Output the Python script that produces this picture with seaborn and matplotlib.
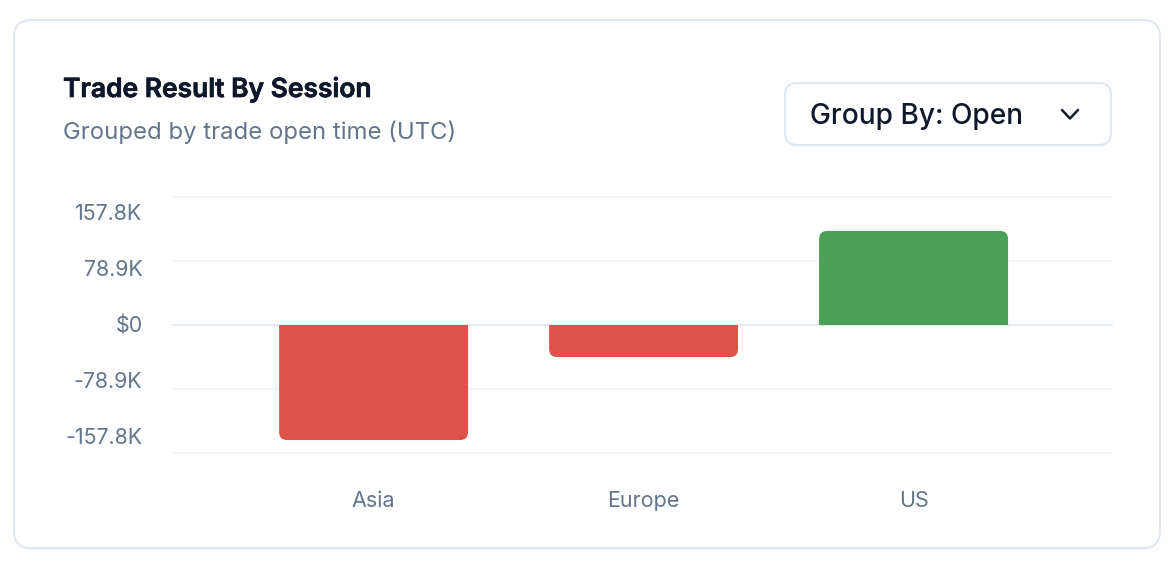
import matplotlib
matplotlib.use("Agg")
import matplotlib.pyplot as plt
import matplotlib.patheffects as pe
from matplotlib.patches import FancyBboxPatch, PathPatch
from matplotlib.path import Path
import pandas as pd
import seaborn as sns

sessions = ["Asia", "Europe", "US"]
results = [-141800, -39500, 115900]
bar_colors = ["#DD524B", "#DD524B", "#4BA155"]

grid_values = [157800, 78900, 0, -78900, -157800]
tick_labels = ["157.8K", "78.9K", "$0", "-78.9K", "-157.8K"]
label_centers_px = [212, 268, 324, 380, 436]

W, H = 1176, 568
SLATE = "#64748B"
INK = "#0F172A"
BORDER = "#E2E8F0"
GRID = "#F1F5F9"

sns.set_style("white")
plt.rcParams["font.family"] = ["Inter", "DejaVu Sans"]

fig = plt.figure(figsize=(W / 100, H / 100), dpi=100, facecolor="white")

# pixel canvas for the card, the headings and the dropdown
bg = fig.add_axes([0, 0, 1, 1], zorder=0)
bg.set_xlim(0, W)
bg.set_ylim(H, 0)
bg.axis("off")

# faint shadow under the card
bg.add_patch(FancyBboxPatch((14, 22), 1146, 528, boxstyle="round,pad=0,rounding_size=17",
                            fc="#F4F6F9", ec="none"))
bg.add_patch(FancyBboxPatch((14, 20), 1146, 528, boxstyle="round,pad=0,rounding_size=17",
                            fc="white", ec=BORDER, lw=1.5))
title = bg.text(63, 89.5, "Trade Result By Session", fontsize=19, fontweight="semibold",
                color=INK, va="center", ha="left")
title.set_path_effects([pe.withStroke(linewidth=0.5, foreground=INK)])
bg.text(63, 132, "Grouped by trade open time (UTC)", fontsize=17.2,
        color=SLATE, va="center", ha="left")

bg.add_patch(FancyBboxPatch((785, 83), 326, 62, boxstyle="round,pad=0,rounding_size=12",
                            fc="white", ec=BORDER, lw=1.5))
bg.text(810, 116, "Group By: Open", fontsize=20.2, fontweight="medium",
        color=INK, va="center", ha="left")
bg.plot([1062, 1070, 1078], [110, 118.5, 110], color=INK, lw=1.8,
        solid_capstyle="round", solid_joinstyle="round")

# chart area, 173-1112 across and 197-453 down in reference pixels
ax_left, ax_right, ax_top, ax_bottom = 173, 1112, 197, 453
ax = fig.add_axes([ax_left / W, 1 - ax_bottom / H,
                   (ax_right - ax_left) / W, (ax_bottom - ax_top) / H], zorder=1)
ax.patch.set_alpha(0)

df = pd.DataFrame({"session": sessions, "result": results})
sns.barplot(data=df, x="session", y="result", hue="session", palette=bar_colors,
            saturation=1, width=0.7, legend=False, ax=ax, zorder=3)

ax.set_xlim(-0.743, 2.735)
ax.set_ylim(grid_values[-1], grid_values[0])
sns.despine(ax=ax, left=True, bottom=True)

for value in grid_values:
    ax.axhline(value, color=BORDER if value == 0 else GRID, lw=1.3, zorder=1, clip_on=False)

# rounded ends on the far side of each bar
px_x = (ax_right - ax_left) / (ax.get_xlim()[1] - ax.get_xlim()[0])
px_y = (ax_bottom - ax_top) / (grid_values[0] - grid_values[-1])
rx, radius_px = 8 / px_x, 8
for bar in list(ax.patches):
    x0, x1 = bar.get_x(), bar.get_x() + bar.get_width()
    y0, end = 0, bar.get_y() + bar.get_height()
    ry = radius_px / px_y * (1 if end > 0 else -1)
    verts = [(x0, y0), (x0, end - ry), (x0, end), (x0 + rx, end), (x1 - rx, end),
             (x1, end), (x1, end - ry), (x1, y0), (x0, y0)]
    codes = [Path.MOVETO, Path.LINETO, Path.CURVE3, Path.CURVE3, Path.LINETO,
             Path.CURVE3, Path.CURVE3, Path.LINETO, Path.CLOSEPOLY]
    ax.add_patch(PathPatch(Path(verts, codes), fc=bar.get_facecolor(), ec="none", zorder=3))
    bar.set_visible(False)

# the y labels sit on their own spacing, not on the grid lines
zero_px = (ax_top + ax_bottom) / 2
ax.set_yticks([(zero_px - p) / px_y for p in label_centers_px], labels=tick_labels)
ax.tick_params(axis="y", length=0, pad=22, labelsize=15.4, labelcolor=SLATE)
ax.tick_params(axis="x", length=0, pad=27.7, labelsize=15.5, labelcolor=SLATE)
ax.set_xlabel("")
ax.set_ylabel("")

fig.savefig("out.png", dpi=100)
